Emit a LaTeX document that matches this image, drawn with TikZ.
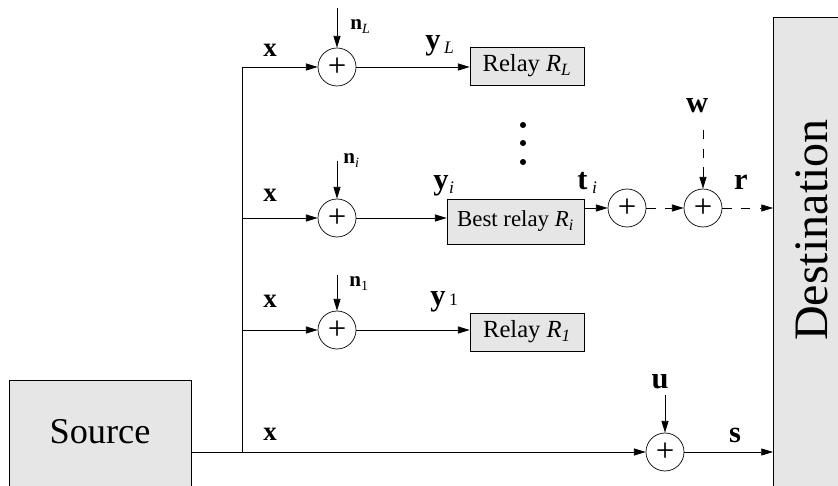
\documentclass[tikz,border=0pt]{standalone}
\usepackage{fontspec}
\setmainfont{Liberation Serif}
\usepackage{xcolor}
\definecolor{boxgray}{HTML}{E6E6E6}
\usepackage{tikz}
\usetikzlibrary{arrows.meta, positioning, calc}

\newcommand{\fsize}[1]{\fontsize{#1}{#1}\selectfont}
% bold letter with a lowered medium subscript: gap, text, drop
\newcommand{\sigsub}[3]{\textbf{#1}\kern#2\raisebox{-3pt}{\fsize{15}\mdseries #3}}
\newcommand{\noisesub}[1]{\textbf{n}\raisebox{-3pt}{\fsize{12}\mdseries #1}}

\begin{document}
\begin{tikzpicture}[x=0.03cm, y=-0.03cm, >={Triangle[length=10pt, width=6pt]},
  line width=0.6pt,
  block/.style={draw, fill=boxgray, inner sep=0pt},
  adder/.style={draw, circle, fill=white, minimum size=1.14cm, inner sep=0pt,
                font=\fsize{28}},
  siglab/.style={inner sep=0pt, font=\fsize{26}\bfseries},
  xlab/.style={inner sep=0pt, font=\fsize{23}\bfseries, anchor=base},
  noiselab/.style={inner sep=0pt, font=\fsize{18}, anchor=base west},
  dashline/.style={dash pattern=on 8pt off 8pt}]

  \useasboundingbox (0,0) rectangle (838,486);
  \clip (0,0) rectangle (838,486);

  % end blocks
  \node[block, anchor=north west, minimum width=5.46cm, minimum height=3.9cm]
    (source) at (9,380) {};
  \node[font=\fsize{31}] (sourcetxt) at (100,432) {Source};
  \node[block, anchor=north west, minimum width=2.4cm, minimum height=14.7cm]
    (dest) at (773,17) {};
  \node[rotate=90, font=\fsize{41}] (desttxt) at (812,230) {Destination};

  % adders
  \node[adder] (sumL) at (337,67) {+};
  \node[adder] (sumI) at (337,218) {+};
  \node[adder] (sumOne) at (337,330) {+};
  \node[adder] (sumT) at (627,208) {+};
  \node[adder] (sumW) at (703,208) {+};
  \node[adder] (sumS) at (665,452) {+};

  % relays
  \node[block, minimum width=3.42cm, minimum height=1.14cm, font=\fsize{21}]
    (relayL) at (527,66) {Relay \textit{R}\textsubscript{\textit{L}}};
  \node[block, minimum width=4.11cm, minimum height=1.35cm, font=\fsize{19.5}]
    (relayI) at (515.5,221.5) {Best relay \textit{R}\textsubscript{\textit{i}}};
  \node[block, minimum width=3.42cm, minimum height=1.14cm, font=\fsize{21}]
    (relayOne) at (527,332) {Relay \textit{R}\textsubscript{\textit{1}}};

  % free ends
  \coordinate (split) at (242,452);
  \coordinate (busTop) at (242,67);
  \coordinate (nLtop) at (337,8);
  \coordinate (nItop) at (337,161);
  \coordinate (nOnetop) at (337,275);
  \coordinate (wtop) at (703,130);
  \coordinate (utop) at (665,395);

  % direct path and bus
  \draw[->] (source.east |- sumS) -- (sumS);
  \draw (split) -- (busTop);
  \draw[->] (busTop) -- (sumL);
  \draw[->] (split |- sumI) -- (sumI);
  \draw[->] (split |- sumOne) -- (sumOne);

  % noise inputs
  \draw[->] (nLtop) -- (sumL);
  \draw[->] (nItop) -- (sumI);
  \draw[->] (nOnetop) -- (sumOne);
  \draw[->] (utop) -- (sumS);
  \draw[->, dashline] (wtop) -- (sumW);

  % into relays and on to destination
  \draw[->] (sumL) -- (sumL -| relayL.west);
  \draw[->] (sumI) -- (sumI -| relayI.west);
  \draw[->] (sumOne) -- (sumOne -| relayOne.west);
  \draw[->] (relayI.east |- sumT) -- (sumT);
  \draw[->, dashline] (sumT) -- (sumW);
  \draw[->, dashline] (sumW) -- (sumW -| dest.west);
  \draw[->] (sumS) -- (sumS -| dest.west);

  \foreach \dy in {125,143,162}
    \fill (523,\dy) circle (2.6pt);

  % labels
  \node[xlab] (xL) at (270,57) {x};
  \node[xlab] (xI) at (270,202) {x};
  \node[xlab] (xOne) at (270,308) {x};
  \node[xlab] (xS) at (270,440) {x};

  \node[noiselab] (nL) at (350,30) {\noisesub{\itshape L}};
  \node[noiselab] (nI) at (343,164) {\noisesub{\itshape i}};
  \node[noiselab] (nOne) at (349,287) {\noisesub{1}};

  \node[siglab, anchor=base west] (yL) at (425,50) {\sigsub{y}{3pt}{\itshape L}};
  \node[siglab, anchor=base west] (yI) at (433,190) {\sigsub{y}{0.5pt}{\itshape i}};
  \node[siglab, anchor=base west] (yOne) at (430,306) {\sigsub{y}{3pt}{\raisebox{3pt}{1}}};
  \node[siglab, anchor=base west] (tI) at (577,190) {\sigsub{t}{4pt}{\itshape i}};
  \node[siglab, anchor=base] (wlab) at (697,113) {w};
  \node[siglab, anchor=base] (rlab) at (741,190) {r};
  \node[siglab, anchor=base] (ulab) at (660,388) {u};
  \node[siglab, anchor=base] (slab) at (735,442) {s};

\end{tikzpicture}
\end{document}
